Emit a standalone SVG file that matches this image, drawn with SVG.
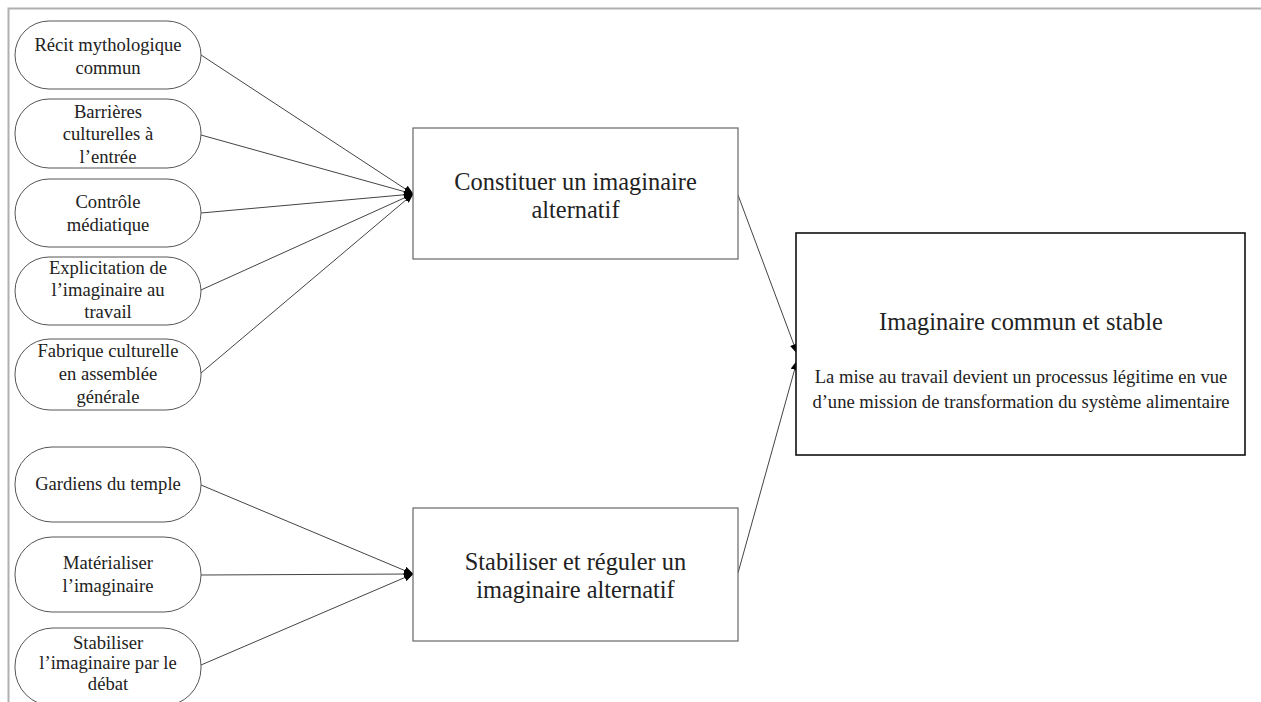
<svg xmlns="http://www.w3.org/2000/svg" width="1261" height="702" viewBox="0 0 1261 702">
<defs>
<style>
.pill{fill:#fff;stroke:#555;stroke-width:1}
.box{fill:#fff;stroke:#666;stroke-width:1.2}
.big{fill:#fff;stroke:#111;stroke-width:1.6}
.t{font-family:"Liberation Serif","Times New Roman",serif;fill:#222;text-anchor:middle}
.s{font-size:18.6px}
.m{font-size:24.4px}
.n{font-size:18.6px}
.c{fill:none;stroke:#444;stroke-width:1}
</style>
<marker id="ah" markerWidth="10" markerHeight="8" refX="9" refY="4" orient="auto" markerUnits="userSpaceOnUse">
<path d="M0,0 L10,4 L0,8 Z" fill="#000"/>
</marker>
</defs>
<rect width="1261" height="702" fill="#fff"/>
<path d="M8.5,702 V8.5 H1261" fill="none" stroke="#b0b0b0" stroke-width="2"/>

<g id="connectors">
<line class="c" x1="201" y1="55" x2="413" y2="194" marker-end="url(#ah)"/>
<line class="c" x1="201" y1="135" x2="413" y2="194" marker-end="url(#ah)"/>
<line class="c" x1="201" y1="213" x2="413" y2="194" marker-end="url(#ah)"/>
<line class="c" x1="201" y1="290" x2="413" y2="194" marker-end="url(#ah)"/>
<line class="c" x1="201" y1="373" x2="413" y2="194" marker-end="url(#ah)"/>
<line class="c" x1="201" y1="485" x2="413" y2="574" marker-end="url(#ah)"/>
<line class="c" x1="201" y1="575" x2="413" y2="574" marker-end="url(#ah)"/>
<line class="c" x1="201" y1="665" x2="413" y2="574" marker-end="url(#ah)"/>
<line class="c" x1="738" y1="195" x2="797" y2="353" marker-end="url(#ah)"/>
<line class="c" x1="738" y1="573" x2="797" y2="361" marker-end="url(#ah)"/>
</g>

<g id="n1"><rect class="pill" x="15" y="21" width="186" height="68" rx="34"/>
<text class="t s" x="108" y="51">Récit mythologique</text><text class="t s" x="108" y="74">commun</text></g>
<g id="n2"><rect class="pill" x="15" y="99" width="186" height="69" rx="34"/>
<text class="t s" x="108" y="118">Barrières</text><text class="t s" x="108" y="140">culturelles à</text><text class="t s" x="108" y="163">l’entrée</text></g>
<g id="n3"><rect class="pill" x="15" y="179" width="186" height="68" rx="34"/>
<text class="t s" x="108" y="208">Contrôle</text><text class="t s" x="108" y="231">médiatique</text></g>
<g id="n4"><rect class="pill" x="15" y="257" width="186" height="68" rx="34"/>
<text class="t s" x="108" y="274">Explicitation de</text><text class="t s" x="108" y="296">l’imaginaire au</text><text class="t s" x="108" y="318">travail</text></g>
<g id="n5"><rect class="pill" x="15" y="339" width="186" height="71" rx="35"/>
<text class="t s" x="108" y="357">Fabrique culturelle</text><text class="t s" x="108" y="380">en assemblée</text><text class="t s" x="108" y="403">générale</text></g>
<g id="n6"><rect class="pill" x="15" y="447" width="186" height="75" rx="37"/>
<text class="t s" x="108" y="490">Gardiens du temple</text></g>
<g id="n7"><rect class="pill" x="15" y="537" width="186" height="75" rx="37"/>
<text class="t s" x="108" y="569">Matérialiser</text><text class="t s" x="108" y="592">l’imaginaire</text></g>
<g id="n8"><rect class="pill" x="15" y="628" width="186" height="78" rx="38"/>
<text class="t s" x="108" y="649">Stabiliser</text><text class="t s" x="108" y="669">l’imaginaire par le</text><text class="t s" x="108" y="690">débat</text></g>

<g id="b1"><rect class="box" x="413" y="128" width="325" height="131"/>
<text class="t m" x="575.5" y="190">Constituer un imaginaire</text><text class="t m" x="575.5" y="218">alternatif</text></g>
<g id="b2"><rect class="box" x="413" y="508" width="325" height="133"/>
<text class="t m" x="575.5" y="570">Stabiliser et réguler un</text><text class="t m" x="575.5" y="598">imaginaire alternatif</text></g>
<g id="b3"><rect class="big" x="796" y="233" width="449" height="222"/>
<text class="t m" x="1021" y="330">Imaginaire commun et stable</text>
<text class="t n" x="1021" y="383">La mise au travail devient un processus légitime en vue</text>
<text class="t n" x="1021" y="408">d’une mission de transformation du système alimentaire</text></g>
</svg>
